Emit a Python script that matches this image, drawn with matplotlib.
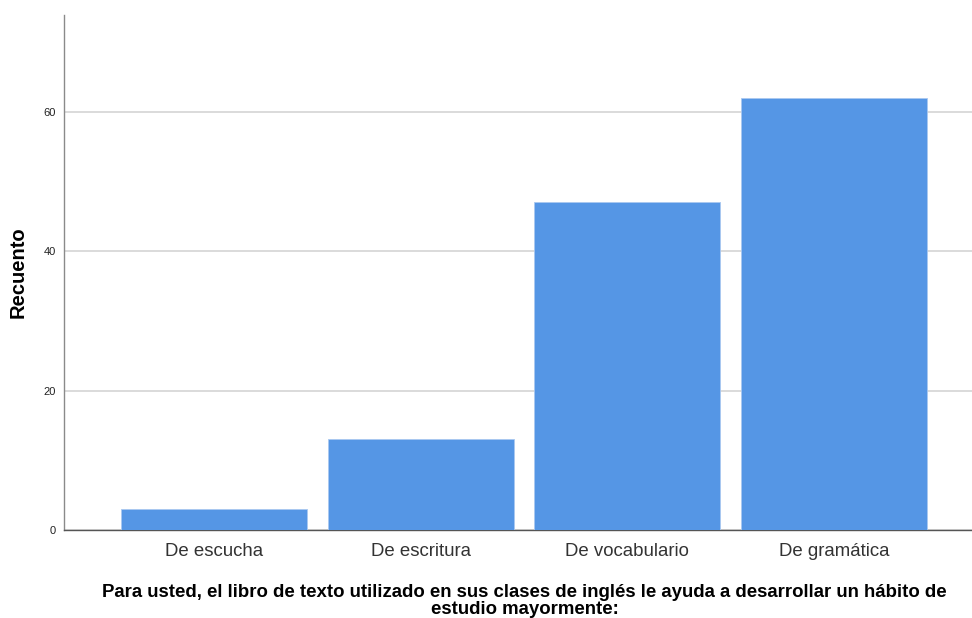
import matplotlib
matplotlib.use("Agg")
import matplotlib.pyplot as plt

categories = ["De escucha", "De escritura", "De vocabulario", "De gramática"]
counts = [3, 13, 47, 62]
yticks = [0, 20, 40, 60]
xlabel_lines = ["Para usted, el libro de texto utilizado en sus clases de inglés le ayuda a desarrollar un hábito de",
                "estudio mayormente:"]

plt.rcParams['font.family'] = ['Liberation Sans', 'DejaVu Sans']

fig = plt.figure(figsize=(9.72, 6.18), dpi=100)
ax = fig.add_axes([0.0658, 0.1424, 0.9342, 0.8333])

x = list(range(len(categories)))
ax.bar(x, counts, width=0.9, color="#5596e5", edgecolor="#a9c8f0", linewidth=0.6, zorder=3)

ax.set_xlim(-0.726, 3.667)
ax.set_ylim(0, 73.9)
ax.set_yticks(yticks)
ax.set_yticklabels([str(v) for v in yticks], fontsize=8, color="#222222")
ax.set_xticks(x)
ax.set_xticklabels(categories, fontsize=13.4, color="#333333")
ax.tick_params(axis='both', length=0, pad=6)
ax.tick_params(axis='x', pad=9.5)

ax.grid(axis='y', color="#d4d4d4", linewidth=1.2, zorder=0)
for s in ['top', 'right']:
    ax.spines[s].set_visible(False)
ax.spines['left'].set_color("#8a8a8a")
ax.spines['bottom'].set_color("#555555")
ax.spines['left'].set_linewidth(1.0)
ax.spines['bottom'].set_linewidth(1.0)

ax.set_ylabel("Recuento", fontsize=14.5, fontweight='bold', labelpad=11)
fig.text(0.539, 0.034, xlabel_lines[0], ha='center', va='baseline', fontsize=13.4, fontweight='bold')
fig.text(0.540, 0.0065, xlabel_lines[1], ha='center', va='baseline', fontsize=13.4, fontweight='bold')

fig.savefig("out.png", dpi=100)
